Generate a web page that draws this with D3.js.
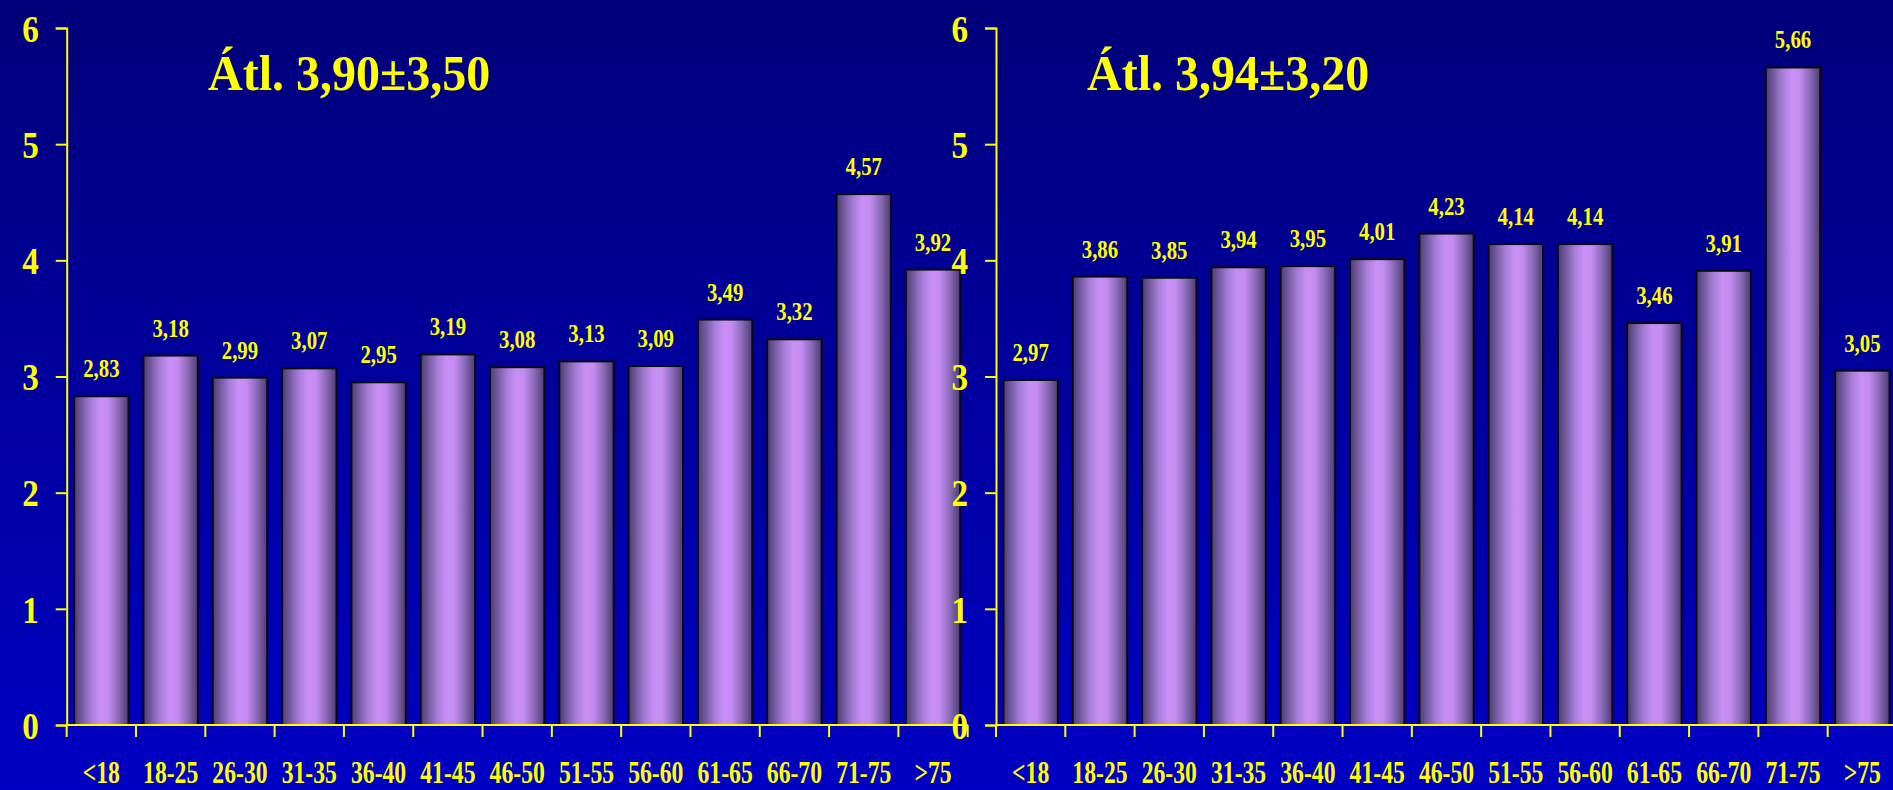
<!DOCTYPE html>
<html>
<head>
<meta charset="utf-8">
<script src="https://cdn.jsdelivr.net/npm/d3@7"></script>
<style>
html,body{margin:0;padding:0;overflow:hidden;background:#000090;}
svg{display:block;}
</style>
</head>
<body>
<svg id="chart" width="1893" height="790"></svg>
<script>
const categories = ["<18","18-25","26-30","31-35","36-40","41-45","46-50","51-55","56-60","61-65","66-70","71-75",">75"];
const valuesLeft  = [2.83,3.18,2.99,3.07,2.95,3.19,3.08,3.13,3.09,3.49,3.32,4.57,3.92];
const valuesRight = [2.97,3.86,3.85,3.94,3.95,4.01,4.23,4.14,4.14,3.46,3.91,5.66,3.05];
const yTicks = [0,1,2,3,4,5,6];
const titleLeft = "Átl. 3,90±3,50";
const titleRight = "Átl. 3,94±3,20";

const W = 1893, H = 790;
const svg = d3.select("#chart");
const defs = svg.append("defs");

const bg = defs.append("linearGradient").attr("id","bg").attr("x1",0).attr("y1",0).attr("x2",0).attr("y2",1);
bg.append("stop").attr("offset","0%").attr("stop-color","#00007a");
bg.append("stop").attr("offset","100%").attr("stop-color","#0000c4");

const bf = defs.append("linearGradient").attr("id","barfill").attr("x1",0).attr("y1",0).attr("x2",1).attr("y2",0);
[["0%","#4e3b72"],["12%","#6e5699"],["30%","#a47cd6"],["48%","#c890f6"],["62%","#c48cf1"],["80%","#8c6dbb"],["100%","#4e3b72"]]
  .forEach(([o,c])=>bf.append("stop").attr("offset",o).attr("stop-color",c));

svg.append("rect").attr("width",W).attr("height",H).attr("fill","url(#bg)");

const FONT = "'Liberation Serif','Times New Roman',serif";
const YEL = "#ffff00";
const y0 = 725, y6 = 28;

function drawChart(x0, values, title, titleX) {
  const x1 = x0 + 901;
  const x = d3.scaleBand().domain(categories).range([x0, x1]).paddingInner(0.215).paddingOuter(0.1075);
  const y = d3.scaleLinear().domain([0,6]).range([y0, y6]);
  const g = svg.append("g");
  const step = x.step();

  // bars
  g.selectAll("rect.bar").data(values).join("rect")
    .attr("class","bar")
    .attr("x",(d,i)=>x(categories[i]))
    .attr("width",x.bandwidth())
    .attr("y",d=>y(d))
    .attr("height",d=>y(0)-y(d))
    .attr("fill","url(#barfill)")
    .attr("stroke","#0a0a14")
    .attr("stroke-width",2);

  // value labels
  g.selectAll("text.val").data(values).join("text")
    .attr("class","val")
    .attr("transform",(d,i)=>`translate(${x(categories[i])+x.bandwidth()/2},${y(d)-19}) scale(0.8,1)`)
    .attr("text-anchor","middle")
    .attr("font-family",FONT).attr("font-weight","bold").attr("font-size",26)
    .attr("fill",YEL)
    .text(d=>d.toFixed(2).replace(".",","));

  // x axis line and ticks at band boundaries
  const bounds = d3.range(categories.length+1).map(i => x0 + i*step);
  g.append("line").attr("x1",x0).attr("x2",Math.min(x1,W+5)).attr("y1",y0).attr("y2",y0)
    .attr("stroke",YEL).attr("stroke-width",2);
  g.selectAll("line.xt").data(bounds).join("line").attr("class","xt")
    .attr("x1",d=>d).attr("x2",d=>d).attr("y1",y0).attr("y2",y0+12)
    .attr("stroke",YEL).attr("stroke-width",2);

  // x labels
  g.selectAll("text.xl").data(categories).join("text").attr("class","xl")
    .attr("transform",d=>`translate(${x(d)+x.bandwidth()/2},782.5) scale(0.74,1)`)
    .attr("text-anchor","middle")
    .attr("font-family",FONT).attr("font-weight","bold").attr("font-size",32)
    .attr("fill",YEL)
    .text(d=>d);

  // y axis
  const yAxis = d3.axisLeft(y).tickValues(yTicks).tickSize(11).tickSizeOuter(11).tickFormat(d3.format("d"));
  const ya = svg.append("g").attr("transform",`translate(${x0},0)`).call(yAxis);
  ya.select(".domain").attr("stroke",YEL).attr("stroke-width",2);
  ya.selectAll(".tick line").attr("stroke",YEL).attr("stroke-width",2);
  ya.selectAll(".tick text").remove();
  ya.selectAll(".tick").append("text")
    .attr("transform","translate(-28,0) scale(0.85,1)")
    .attr("dy","0.34em")
    .attr("text-anchor","end")
    .attr("font-family",FONT).attr("font-weight","bold").attr("font-size",39)
    .attr("fill",YEL)
    .text(d=>d);

  // title
  svg.append("text")
    .attr("transform",`translate(${titleX},90) scale(0.96,1)`)
    .attr("text-anchor","start")
    .attr("font-family",FONT).attr("font-weight","bold").attr("font-size",50)
    .attr("fill",YEL)
    .text(title);
}

drawChart(66.7, valuesLeft, titleLeft, 208);
drawChart(996, valuesRight, titleRight, 1087);
</script>
</body>
</html>
